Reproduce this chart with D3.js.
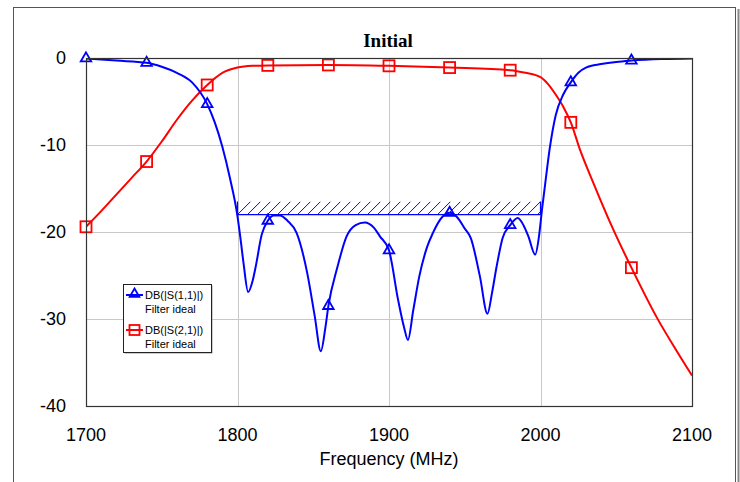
<!DOCTYPE html>
<html><head><meta charset="utf-8">
<script src="https://cdn.jsdelivr.net/npm/d3@7"></script>
<style>body{margin:0;background:#fff}svg{display:block;font-family:"Liberation Sans",Arial,sans-serif}</style>
</head><body><svg id="c" width="740" height="482"></svg>
<script>
// S11 (MHz, dB)
const s11Freq = [1700,1720,1740,1750,1760,1770,1780,1785,1790,1795,1800,1802,1804,1807,1810,1812,1816,1820,1824,1828,1833,1839,1846,1851,1855,1858,1860,1866,1872,1878,1884,1890,1894,1900,1906,1910,1912.5,1916,1920,1925,1929,1935,1940,1945,1950,1954,1960,1965,1968,1971,1975,1980,1985,1989,1992,1996.5,1999,2001,2003,2006,2010,2015,2020,2025,2030,2040,2050,2060,2080,2100];
const s11Db   = [-0.05,-0.3,-0.55,-1.0,-1.7,-2.8,-5.3,-7.4,-10.2,-13.8,-18.2,-20.8,-23.6,-26.9,-25.6,-24,-20.3,-18.7,-18.1,-18.1,-18.7,-20.1,-24.7,-29.7,-33.7,-31,-28.5,-24,-20.5,-19.2,-18.9,-19.5,-20.5,-22.1,-27.8,-31,-32.4,-29,-25.1,-21.8,-20.1,-18.3,-17.8,-18.3,-19.6,-20.7,-25.1,-29.4,-27,-24,-20.7,-19.2,-18.4,-19.3,-20.5,-22.6,-20.5,-17.4,-14.6,-10.5,-6.6,-4.2,-2.8,-1.7,-1.1,-0.7,-0.45,-0.3,-0.12,-0.05];
// S21
const s21Freq = [1700,1710,1720,1730,1740,1750,1760,1770,1780,1790,1800,1810,1820,1860,1900,1940,1980,1990,2000,2005,2010,2015,2020,2026,2035,2048,2060,2077,2090,2100];
const s21Db   = [-19.4,-17.6,-15.7,-13.8,-11.9,-9.6,-7.1,-4.9,-3.1,-1.7,-1.1,-0.9,-0.85,-0.8,-0.9,-1.1,-1.4,-1.7,-2.2,-3.0,-4.2,-5.6,-7.4,-10.5,-14.4,-19.7,-24.1,-29.9,-33.7,-36.5];
const markerFreqs = [1700,1740,1780,1820,1860,1900,1940,1980,2020,2060];
// spec goal: S11 below -18 dB from 1800 to 2000 MHz (hatch drawn up to -16.5)
const goalF = [1800, 2000], goalDb = -18, goalHatchTop = -16.5;
const xTicks = [1700,1800,1900,2000,2100];
const yTicks = [0,-10,-20,-30,-40];
const legendItems = [
  {name:'DB(|S(1,1)|)', sub:'Filter ideal', color:'#0000ff', sym:'tri'},
  {name:'DB(|S(2,1)|)', sub:'Filter ideal', color:'#ff0000', sym:'sq'}
];

const svg = d3.select('#c');
const L = 86, R = 692, T = 58, B = 406;
const x = d3.scaleLinear().domain([1700,2100]).range([L,R]);
const y = d3.scaleLinear().domain([-40,0]).range([B,T]);

// outer frame
svg.append('rect').attr('x',13.5).attr('y',7.5).attr('width',722).attr('height',490)
  .attr('fill','#fff').attr('stroke','#555').attr('stroke-width',1);
svg.append('line').attr('x1',738.5).attr('x2',738.5).attr('y1',9).attr('y2',482)
  .attr('stroke','#888').attr('stroke-width',2);

svg.append('text').attr('x',388).attr('y',47).attr('text-anchor','middle')
  .attr('font-family','"Liberation Serif",serif').attr('font-weight','bold').attr('font-size',19)
  .text('Initial');

// grid
const grid = svg.append('g').attr('stroke','#c8c8c8').attr('stroke-width',1);
grid.selectAll('line.v').data(xTicks.slice(1,-1)).join('line').attr('class','v')
  .attr('x1',d=>Math.round(x(d))+.5).attr('x2',d=>Math.round(x(d))+.5).attr('y1',T).attr('y2',B);
grid.selectAll('line.h').data(yTicks.slice(1,-1)).join('line').attr('class','h')
  .attr('y1',d=>Math.round(y(d))+.5).attr('y2',d=>Math.round(y(d))+.5).attr('x1',L).attr('x2',R);

// tick labels
svg.append('g').selectAll('text').data(xTicks).join('text')
  .attr('x',d=>x(d)).attr('y',441).attr('text-anchor','middle').attr('font-size',18).text(d=>d);
svg.append('g').selectAll('text').data(yTicks).join('text')
  .attr('x',66).attr('y',d=>y(d)+6).attr('text-anchor','end').attr('font-size',18).text(d=>d);
svg.append('text').attr('x',389).attr('y',465).attr('text-anchor','middle').attr('font-size',18)
  .text('Frequency (MHz)');

// hatch goal: diagonal lines drawn straight, clipped to the goal band
const defs = svg.append('defs');
const gx0 = x(goalF[0]), gx1 = x(goalF[1]), gy = y(goalDb), gyt = y(goalHatchTop);
defs.append('clipPath').attr('id','hclip').append('rect')
  .attr('x',gx0).attr('y',gyt).attr('width',gx1-gx0).attr('height',gy-gyt);
const hg = svg.append('g').attr('clip-path','url(#hclip)');
hg.selectAll('line').data(d3.range(gx0, gx1 + (gy-gyt), 10)).join('line')
  .attr('x1',d=>d).attr('y1',gy).attr('x2',d=>d+(gy-gyt)).attr('y2',gyt)
  .attr('stroke','#0000ff').attr('stroke-width',1);
svg.append('path').attr('d',`M${gx0},${gyt}V${gy}H${gx1}V${gyt}`)
  .attr('fill','none').attr('stroke','#0000ff').attr('stroke-width',1.2);

// clip
defs.append('clipPath').attr('id','clip').append('rect').attr('x',L).attr('y',T).attr('width',R-L).attr('height',B-T);

const line = d3.line().x(d=>x(d[0])).y(d=>y(d[1])).curve(d3.curveMonotoneX);
const s11 = d3.zip(s11Freq, s11Db), s21 = d3.zip(s21Freq, s21Db);
const plot = svg.append('g').attr('clip-path','url(#clip)');
plot.append('path').datum(s21).attr('d',line).attr('fill','none').attr('stroke','#ff0000').attr('stroke-width',2);
plot.append('path').datum(s11).attr('d',line).attr('fill','none').attr('stroke','#0000ff').attr('stroke-width',2);

const tri = d3.symbol(d3.symbolTriangle, 48)();
const isMark = d => markerFreqs.includes(d[0]);
svg.append('g').selectAll('rect').data(s21.filter(isMark)).join('rect')
  .attr('x',d=>x(d[0])-5.5).attr('y',d=>y(d[1])-5.5).attr('width',11).attr('height',11)
  .attr('fill','none').attr('stroke','#ff0000').attr('stroke-width',1.8);
svg.append('g').selectAll('path').data(s11.filter(isMark)).join('path')
  .attr('d',tri).attr('transform',d=>`translate(${x(d[0])},${y(d[1])})`)
  .attr('fill','none').attr('stroke','#0000ff').attr('stroke-width',1.8);

// plot border
svg.append('rect').attr('x',L+.5).attr('y',T+.5).attr('width',R-L).attr('height',B-T)
  .attr('fill','none').attr('stroke','#333').attr('stroke-width',1.2);

// legend
const lg = svg.append('g').attr('transform','translate(123,284)');
lg.append('rect').attr('x',1.5).attr('y',1.5).attr('width',88).attr('height',68).attr('fill','#999');
lg.append('rect').attr('x',.5).attr('y',.5).attr('width',88).attr('height',68).attr('fill','#fff').attr('stroke','#222');
legendItems.forEach((it,i) => {
  const yy = 11 + i*35;
  lg.append('line').attr('x1',3).attr('x2',20).attr('y1',yy).attr('y2',yy).attr('stroke',it.color).attr('stroke-width',2);
  if (it.sym === 'tri') lg.append('path').attr('d',d3.symbol(d3.symbolTriangle,40)()).attr('transform',`translate(11.5,${yy-1})`)
    .attr('fill','none').attr('stroke',it.color).attr('stroke-width',1.8);
  else lg.append('rect').attr('x',6.5).attr('y',yy-5).attr('width',10).attr('height',10)
    .attr('fill','none').attr('stroke',it.color).attr('stroke-width',1.8);
  lg.append('text').attr('x',22).attr('y',yy+4).attr('font-size',11).text(it.name);
  lg.append('text').attr('x',22).attr('y',yy+18).attr('font-size',11).text(it.sub);
});
</script></body></html>
